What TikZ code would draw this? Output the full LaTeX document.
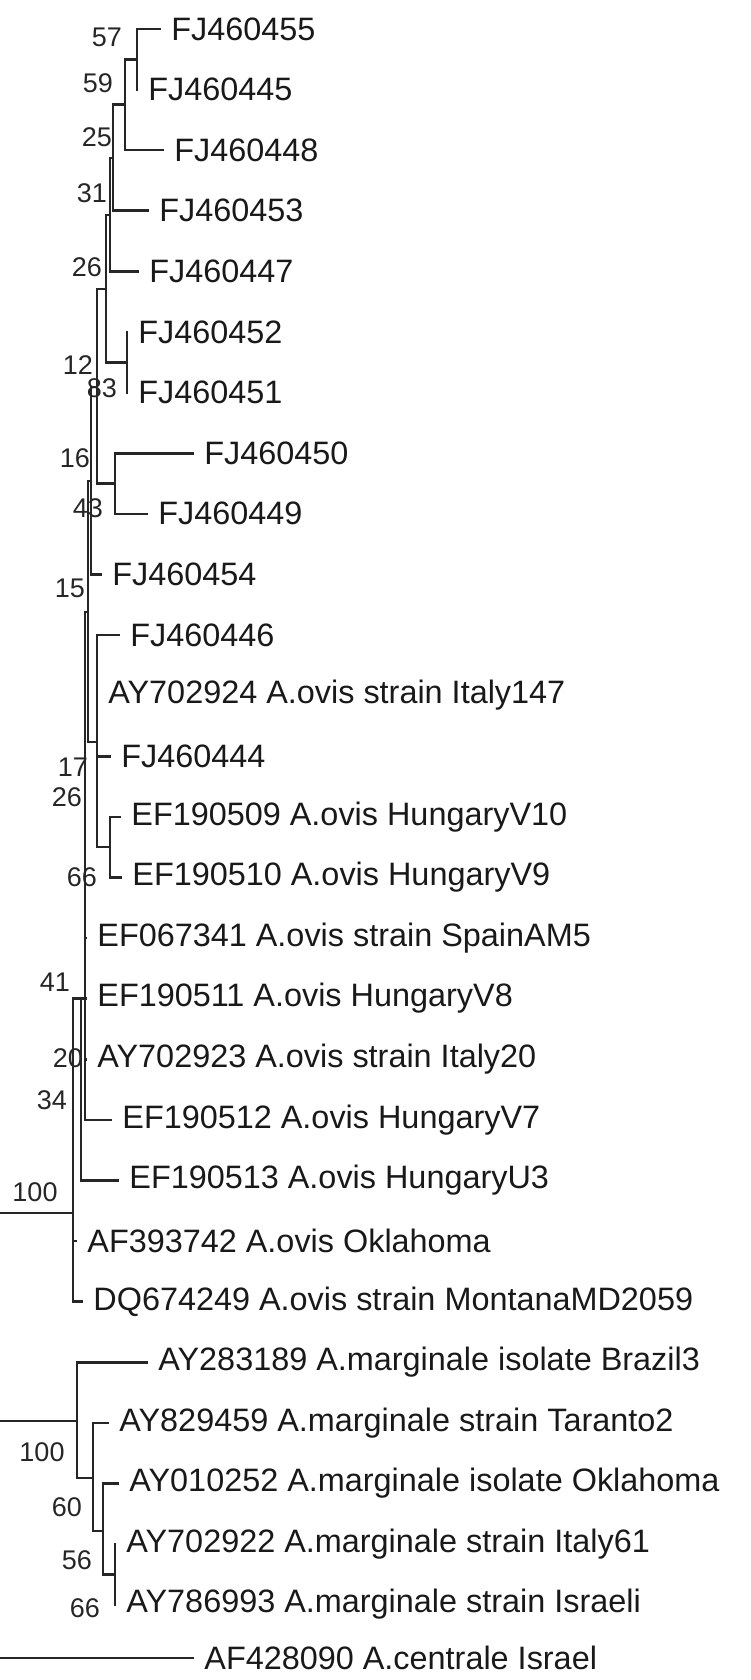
\documentclass[tikz,border=0pt]{standalone}
\usepackage{fontspec}
\setmainfont{Liberation Sans}
\begin{document}
\begin{tikzpicture}[x=0.5pt,y=-0.5pt,
  declare function={ry(\i)=29+60.6*\i;},
  branch/.style={line width=1.3pt, black!85, line cap=rect},
  leaf/.style={anchor=west, inner xsep=5.5pt, inner ysep=0pt, text=black!90,
    font=\fontsize{16.2}{18}\selectfont},
  boot/.style={inner sep=0pt, text=black!85, font=\fontsize{13.5}{15}\selectfont}]

\useasboundingbox (0,0) rectangle (750,1680);

% Leaves (tip of branch, name)
\node[leaf] (t0) at (160,{ry(0)}) {FJ460455};
\node[leaf] (t1) at (137,{ry(1)}) {FJ460445};
\node[leaf] (t2) at (163,{ry(2)}) {FJ460448};
\node[leaf] (t3) at (148,{ry(3)}) {FJ460453};
\node[leaf] (t4) at (138,{ry(4)}) {FJ460447};
\node[leaf] (t5) at (127,{ry(5)}) {FJ460452};
\node[leaf] (t6) at (127,{ry(6)}) {FJ460451};
\node[leaf] (t7) at (193,{ry(7)}) {FJ460450};
\node[leaf] (t8) at (147,{ry(8)}) {FJ460449};
\node[leaf] (t9) at (101,{ry(9)}) {FJ460454};
\node[leaf] (t10) at (119,{ry(10)}) {FJ460446};
\node[leaf] (t11) at (97,{ry(11)}) {AY702924 A.ovis strain Italy147};
\node[leaf] (t12) at (110,{ry(12)}) {FJ460444};
\node[leaf] (t13) at (120,{ry(13)}) {EF190509 A.ovis HungaryV10};
\node[leaf] (t14) at (121,{ry(14)}) {EF190510 A.ovis HungaryV9};
\node[leaf] (t15) at (86,{ry(15)}) {EF067341 A.ovis strain SpainAM5};
\node[leaf] (t16) at (86,{ry(16)}) {EF190511 A.ovis HungaryV8};
\node[leaf] (t17) at (86,{ry(17)}) {AY702923 A.ovis strain Italy20};
\node[leaf] (t18) at (111,{ry(18)}) {EF190512 A.ovis HungaryV7};
\node[leaf] (t19) at (118,{ry(19)}) {EF190513 A.ovis HungaryU3};
\node[leaf] (t20) at (76,{ry(20)}) {AF393742 A.ovis Oklahoma};
\node[leaf] (t21) at (82,{ry(21)}) {DQ674249 A.ovis strain MontanaMD2059};
\node[leaf] (t22) at (147,{ry(22)}) {AY283189 A.marginale isolate Brazil3};
\node[leaf] (t23) at (108,{ry(23)}) {AY829459 A.marginale strain Taranto2};
\node[leaf] (t24) at (118,{ry(24)}) {AY010252 A.marginale isolate Oklahoma};
\node[leaf] (t25) at (115,{ry(25)}) {AY702922 A.marginale strain Italy61};
\node[leaf] (t26) at (115,{ry(26)}) {AY786993 A.marginale strain Israeli};
\node[leaf] (t27) at (193,1658) {AF428090 A.centrale Israel};

% Internal nodes, A.ovis group
\coordinate (nA) at (137,{(ry(0)+ry(1))/2});
\coordinate (nB) at (125,{((ry(0)+ry(1))/2+ry(2))/2});
\coordinate (nC) at (113,158);
\coordinate (nD) at (110,215);
\coordinate (nE) at (127,{(ry(5)+ry(6))/2});
\coordinate (nF) at (106,289);
\coordinate (nG) at (115,{(ry(7)+ry(8))/2});
\coordinate (nH) at (97,387);
\coordinate (nI) at (91,481);
\coordinate (nK) at (110,{(ry(13)+ry(14))/2});
\coordinate (nJ) at (97,742);
\coordinate (nL) at (88,612);
\coordinate (nM) at (85,{ry(16)});
\coordinate (nN) at (81,{ry(16)});
\coordinate (nO) at (73,{ry(16)});
\coordinate (rootA) at (0,1213);

% Internal nodes, A.marginale group
\coordinate (nS) at (115,{(ry(25)+ry(26))/2});
\coordinate (nR) at (103,1531);
\coordinate (nQ) at (93,1478);
\coordinate (nP) at (77,1421);
\coordinate (rootB) at (0,1421);
\coordinate (rootC) at (0,1658);

% Branches
\draw[branch] (t0.west) -| (nA |- t1) -- (t1.west);
\draw[branch] (nA) -| (nB |- t2) -- (t2.west);
\draw[branch] (nB) -| (nC |- t3) -- (t3.west);
\draw[branch] (nC) -| (nD |- t4) -- (t4.west);
\draw[branch] (t5.west) -| (nE |- t6) -- (t6.west);
\draw[branch] (nD) -| (nF |- nE) -- (nE);
\draw[branch] (t7.west) -| (nG |- t8) -- (t8.west);
\draw[branch] (nF) -| (nH |- nG) -- (nG);
\draw[branch] (nH) -| (nI |- t9) -- (t9.west);
\draw[branch] (t13.west) -| (nK |- t14) -- (t14.west);
\draw[branch] (t10.west) -| (nJ |- nK) -- (nK);
\draw[branch] (nJ |- t11) -- (t11.west);
\draw[branch] (nJ |- t12) -- (t12.west);
\draw[branch] (nI) -| (nL |- nJ) -- (nJ);
\draw[branch] (nL) -| (nM |- t18) -- (t18.west);
\draw[branch] (nM |- t15) -- (t15.west);
\draw[branch] (nM |- t16) -- (t16.west);
\draw[branch] (nM |- t17) -- (t17.west);
\draw[branch] (nM) -| (nN |- t19) -- (t19.west);
\draw[branch] (nN) -| (nO |- t21) -- (t21.west);
\draw[branch] (nO |- t20) -- (t20.west);
\draw[branch] (rootA) -- (rootA -| nO);

\draw[branch] (t25.west) -| (nS |- t26) -- (t26.west);
\draw[branch] (t24.west) -| (nR |- nS) -- (nS);
\draw[branch] (t23.west) -| (nQ |- nR) -- (nR);
\draw[branch] (t22.west) -| (nP |- nQ) -- (nQ);
\draw[branch] (rootB) -- (nP);
\draw[branch] (rootC) -- (t27.west);

% Bootstrap values
\node[boot] (b57) at (107,37) {57};
\node[boot] (b59) at (98,83) {59};
\node[boot] (b25) at (97,137) {25};
\node[boot] (b31) at (92,193) {31};
\node[boot] (b26a) at (87,267) {26};
\node[boot] (b12) at (78,365) {12};
\node[boot] (b83) at (102,388) {83};
\node[boot] (b16) at (75,458) {16};
\node[boot] (b43) at (88,508) {43};
\node[boot] (b15) at (70,588) {15};
\node[boot] (b17) at (73,767) {17};
\node[boot] (b26b) at (67,797) {26};
\node[boot] (b66a) at (82,877) {66};
\node[boot] (b41) at (55,982) {41};
\node[boot] (b20) at (68,1058) {20};
\node[boot] (b34) at (52,1100) {34};
\node[boot] (b100a) at (35,1192) {100};
\node[boot] (b100b) at (42,1452) {100};
\node[boot] (b60) at (67,1507) {60};
\node[boot] (b56) at (77,1560) {56};
\node[boot] (b66b) at (85,1608) {66};

\end{tikzpicture}
\end{document}
